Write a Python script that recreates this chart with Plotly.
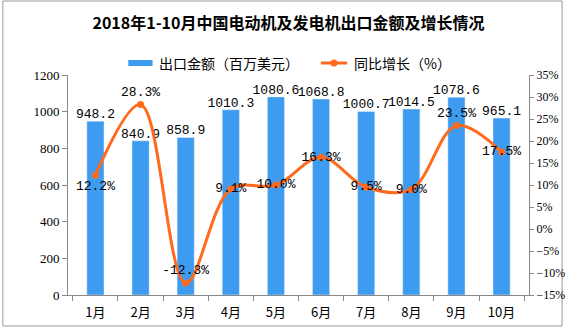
import plotly.graph_objects as go

months = ["1月", "2月", "3月", "4月", "5月", "6月", "7月", "8月", "9月", "10月"]
export_value = [948.2, 840.9, 858.9, 1010.3, 1080.6, 1068.8, 1000.7, 1014.5, 1078.6, 965.1]
growth = [12.2, 28.3, -12.3, 9.1, 10.0, 16.3, 9.5, 9.0, 23.5, 17.5]
growth_text_pos = ["bottom center", "top center", "top center", "middle center", "middle center",
                   "middle center", "middle center", "middle center", "top center", "middle center"]
legend_names = ["出口金额（百万美元）", "同比增长（%）"]

bar_color = "#3D9BF0"
line_color = "#FF6A1C"
font_family = "Noto Sans CJK SC, Liberation Sans, sans-serif"
num_font = "Liberation Mono, DejaVu Sans Mono, monospace"

W, H = 577, 327
l, r, t, b = 68, 35, 75, 32
pw, ph = W - l - r, H - t - b


def px(xp):
    return (xp - l) / pw


def py(yp):
    return (H - b - yp) / ph


fig = go.Figure()
fig.add_trace(go.Bar(
    x=months, y=export_value, name=legend_names[0],
    marker_color=bar_color, width=0.38, showlegend=False,
))
fig.add_trace(go.Scatter(
    x=months, y=export_value, mode="text", showlegend=False,
    text=[f"{v:.1f}" for v in export_value], textposition="top center",
    textfont=dict(family=num_font, size=13, color="#000"), cliponaxis=False,
    hoverinfo="skip",
))
fig.add_trace(go.Scatter(
    x=months, y=growth, name=legend_names[1], yaxis="y2", showlegend=False,
    mode="lines+markers+text", line=dict(color=line_color, width=3, shape="spline", smoothing=1.0),
    marker=dict(color=line_color, size=7),
    text=[f"{v:.1f}%" for v in growth], textposition=growth_text_pos,
    textfont=dict(family=num_font, size=13, color="#000"),
    cliponaxis=False,
))

fig.update_layout(
    width=W, height=H,
    margin=dict(l=l, r=r, t=t, b=b),
    paper_bgcolor="white", plot_bgcolor="white",
    font=dict(family=font_family, size=12, color="#000"),
    title=dict(text="<b>2018年1-10月中国电动机及发电机出口金额及增长情况</b>",
               x=0.5, xanchor="center", y=1 - 23 / H, yanchor="middle",
               font=dict(size=16, family=font_family, color="#000")),
    showlegend=False,
    bargap=0.6,
    xaxis=dict(showline=True, linecolor="#888", ticks="outside", tickson="boundaries",
               ticklen=5, tickcolor="#888", showgrid=False, tickfont=dict(size=13),
               ticklabelstandoff=5, automargin=False),
    yaxis=dict(range=[0, 1200], dtick=200, showline=True, linecolor="#888", ticks="outside",
               ticklen=5, tickcolor="#888", showgrid=False, zeroline=False,
               tickfont=dict(size=13, family="Liberation Serif, serif")),
    yaxis2=dict(range=[-15, 35], dtick=5, overlaying="y", side="right", ticksuffix="%",
                showline=True, linecolor="#888", ticks="outside", ticklen=4, tickcolor="#888",
                showgrid=False, zeroline=False,
                tickfont=dict(size=12, family="Liberation Serif, serif")),
)

# outer border
fig.add_shape(type="rect", xref="paper", yref="paper",
              x0=px(1), x1=px(W - 1), y0=py(H - 1), y1=py(1),
              line=dict(color="#999", width=1), fillcolor="rgba(0,0,0,0)", layer="below")

# custom legend
fig.add_shape(type="rect", xref="paper", yref="paper",
              x0=px(130), x1=px(155), y0=py(66), y1=py(60),
              line=dict(width=0), fillcolor=bar_color)
fig.add_annotation(xref="paper", yref="paper", x=px(160), y=py(63), text=legend_names[0],
                   showarrow=False, xanchor="left", yanchor="middle", font=dict(size=14))
fig.add_shape(type="line", xref="paper", yref="paper",
              x0=px(328), x1=px(355), y0=py(63), y1=py(63),
              line=dict(color=line_color, width=3))
fig.add_shape(type="circle", xref="paper", yref="paper",
              x0=px(338), x1=px(345), y0=py(66.5), y1=py(59.5),
              line=dict(width=0), fillcolor=line_color)
fig.add_annotation(xref="paper", yref="paper", x=px(360), y=py(63), text=legend_names[1],
                   showarrow=False, xanchor="left", yanchor="middle", font=dict(size=14))

fig.write_html("out.html")
